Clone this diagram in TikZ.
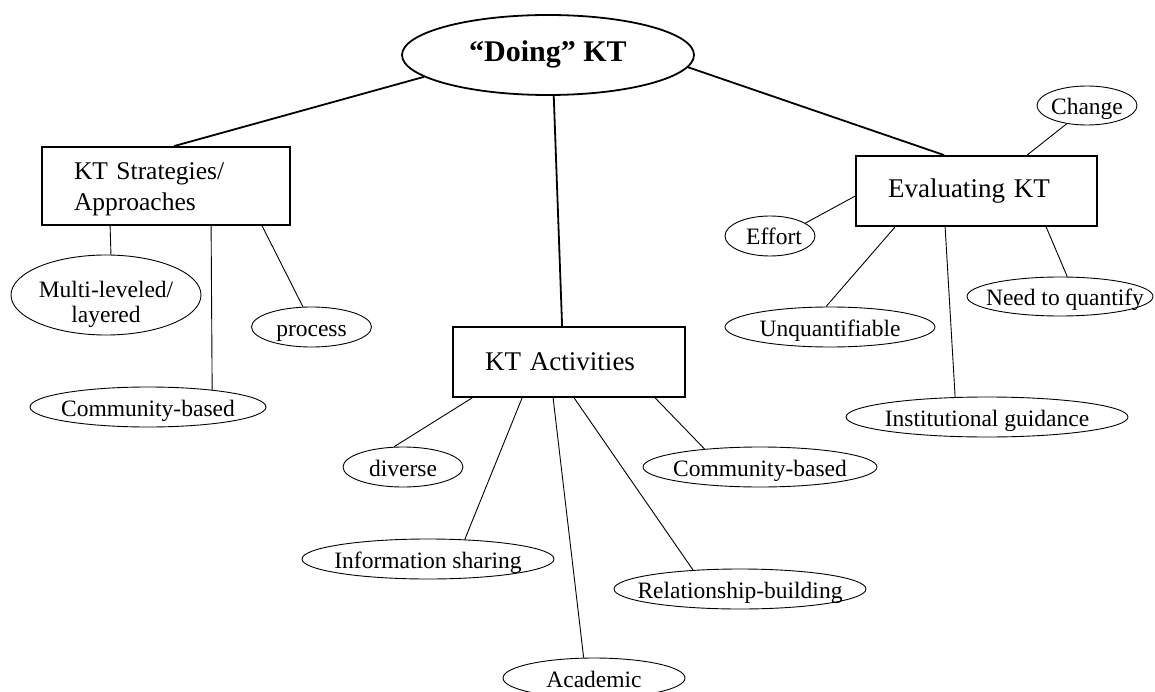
\documentclass[tikz,border=0pt]{standalone}
\usepackage{fontspec}
\setmainfont{Liberation Serif}
\usetikzlibrary{shapes.geometric}

% centred label of zero size, so an ellipse keeps its given size
\newcommand\leaftext[2][-9pt]{\smash{\makebox[0pt]{\raisebox{#1}{#2}}}}
\newcommand\topicfont{\fontsize{27}{31}\selectfont}
\newcommand\leaffont{\fontsize{23.5}{25}\selectfont}

\begin{document}
\begin{tikzpicture}[x=1pt,y=-1pt,
  hub/.style={ellipse, draw, line width=1.8pt, inner sep=0pt,
    font=\fontsize{30}{34}\selectfont\bfseries},
  topic/.style={rectangle, draw, line width=1.8pt, inner ysep=0pt,
    inner xsep=32pt, align=left, font=\topicfont},
  leaf/.style={ellipse, draw, line width=0.9pt, inner sep=0pt,
    minimum height=40pt, minimum width=#1, font=\leaffont},
  trunk/.style={line width=1.8pt},
  twig/.style={line width=0.9pt}]
\useasboundingbox (0,0) rectangle (1155,692);

% central idea and the three topics
\node[hub, minimum width=292pt, minimum height=80pt] (doing) at (548,55)
  {\leaftext[-7pt]{“Doing” KT}};
\node[topic, text width=184pt, minimum height=78pt,
  font=\fontsize{25.5}{31}\selectfont] (strat) at (166,186)
  {\rule{0pt}{24pt}KT Strategies/\\Approaches};
\node[topic, text width=168pt, minimum height=70pt] (act) at (569,362)
  {KT Activities};
\node[topic, text width=177pt, minimum height=70pt] (eval) at (976.5,191)
  {Evaluating KT};

% strategies
\node[leaf=190pt, minimum height=80pt] (multi) at (106,295)
  {\leaftext[-2pt]{\begin{tabular}[t]{@{}c@{}}Multi-leveled/\\layered\end{tabular}}};
\node[leaf=120pt] (process) at (311.5,327) {\leaftext{process}};
\node[leaf=236pt] (commL) at (148,407) {\leaftext{Community-based}};

% activities
\node[leaf=120pt] (diverse) at (403,467) {\leaftext{diverse}};
\node[leaf=252pt] (info) at (428,559) {\leaftext{Information sharing}};
\node[leaf=182pt] (acad) at (594,678) {\leaftext{Academic}};
\node[leaf=252pt] (rel) at (740,589) {\leaftext{Relationship-building}};
\node[leaf=234pt] (commR) at (760,467) {\leaftext{Community-based}};

% evaluation
\node[leaf=100pt, minimum height=39pt] (change) at (1087,105.5) {\leaftext{Change}};
\node[leaf=90pt] (effort) at (770,236) {\leaftext{\hspace{8pt}Effort}};
\node[leaf=210pt] (unq) at (830,327) {\leaftext{Unquantifiable}};
\node[leaf=282pt] (inst) at (987,417) {\leaftext{Institutional guidance}};
\node[leaf=186pt, minimum height=39pt] (need) at (1060,296.5) {\leaftext{\hspace{10pt}Need to quantify}};

% main branches
\draw[trunk] (doing.190) -- ([xshift=133pt]strat.north west);
\draw[trunk] (doing.278) -- ([xshift=110pt]act.north west);
\draw[trunk] (doing.355) -- ([xshift=89pt]eval.north west);

% twigs
\draw[twig] ([xshift=69pt]strat.south west) -- (multi.83);
\draw[twig] ([xshift=170pt]strat.south west) -- (commL.15);
\draw[twig] ([xshift=221pt]strat.south west) -- (process.113);

\draw[twig] ([xshift=20pt]act.south west) -- (diverse.114);
\draw[twig] ([xshift=70pt]act.south west) -- (info.28);
\draw[twig] ([xshift=101pt]act.south west) -- (acad.117);
\draw[twig] ([xshift=122pt]act.south west) -- (rel.158);
\draw[twig] ([xshift=203pt]act.south west) -- (commR.162);

\draw[twig] ([xshift=172pt]eval.north west) -- (change.222);
\draw[twig] ([yshift=-41pt]eval.north west) -- (effort.20);
\draw[twig] ([xshift=40pt]eval.south west) -- (unq.101);
\draw[twig] ([xshift=90pt]eval.south west) -- (inst.148);
\draw[twig] ([xshift=191pt]eval.south west) -- (need.70);
\end{tikzpicture}
\end{document}
